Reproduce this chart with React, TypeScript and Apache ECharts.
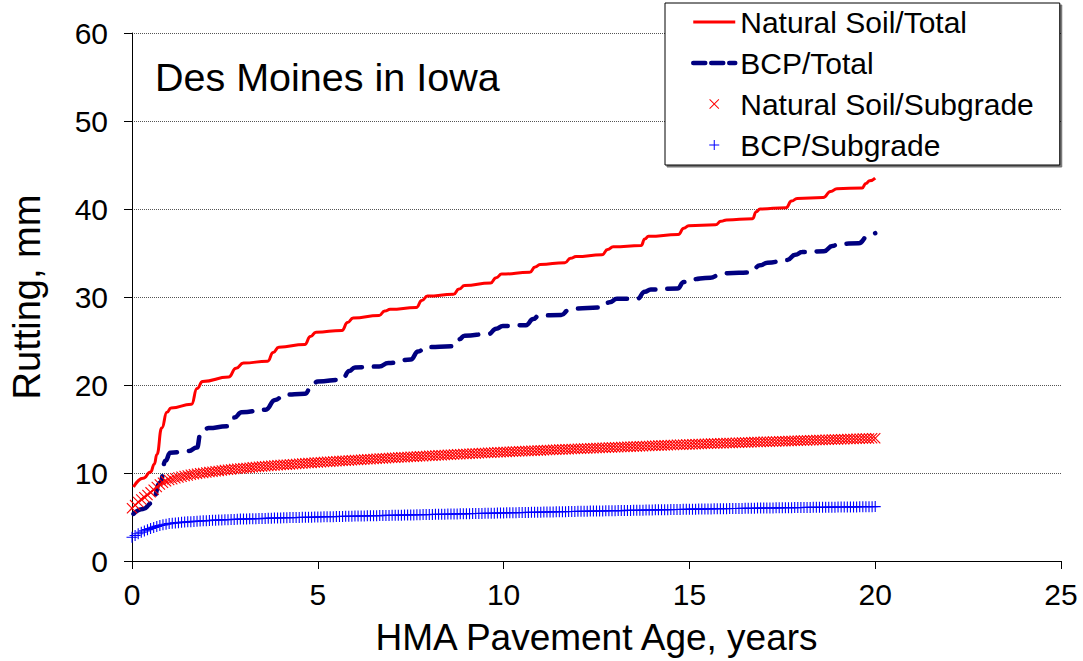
import React, { useEffect, useRef } from "react";
import * as echarts from "echarts";

// ---- Data ----
const xTicks = [0, 5, 10, 15, 20, 25];
const yTicks = [0, 10, 20, 30, 40, 50, 60];

const seriesNames = ["Natural Soil/Total", "BCP/Total", "Natural Soil/Subgrade", "BCP/Subgrade"];

// Natural Soil / Total (years, mm)
const nsTotalAge = [0.04, 0.3, 0.5, 0.6, 0.67, 0.8, 0.94, 1.05, 1.6, 1.75, 1.9, 2.6, 2.8, 3.0, 3.65, 3.8, 3.95, 4.65, 4.8, 4.95, 5.65, 5.8, 5.95, 6.65, 6.8, 6.95, 7.65, 7.8, 7.95, 8.65, 8.8, 8.95, 9.65, 9.8, 9.95, 10.7, 10.85, 10.98, 11.65, 11.8, 11.95, 12.65, 12.8, 12.95, 13.7, 13.8, 13.9, 14.7, 14.85, 14.98, 15.7, 15.85, 16.0, 16.7, 16.8, 16.9, 17.6, 17.75, 17.9, 18.6, 18.8, 18.97, 19.65, 19.75, 19.85, 20.0];
const nsTotalRut = [8.4, 9.4, 10.1, 11.0, 12.1, 15.1, 16.9, 17.4, 17.8, 19.6, 20.4, 20.9, 21.9, 22.5, 22.7, 23.7, 24.3, 24.6, 25.5, 26.0, 26.2, 27.1, 27.6, 27.9, 28.4, 28.6, 28.8, 29.6, 30.1, 30.3, 30.9, 31.3, 31.6, 32.2, 32.6, 32.8, 33.4, 33.7, 33.9, 34.4, 34.6, 34.8, 35.4, 35.7, 35.85, 36.6, 36.9, 37.1, 37.8, 38.1, 38.2, 38.6, 38.75, 38.9, 39.7, 40.0, 40.15, 40.9, 41.2, 41.3, 42.0, 42.3, 42.4, 42.9, 43.2, 43.5];

// BCP / Total (years, mm)
const bcpTotalAge = [0.04, 0.3, 0.54, 0.76, 0.9, 1.03, 1.52, 1.75, 1.84, 2.06, 2.55, 2.75, 2.95, 3.6, 3.85, 4.1, 4.65, 4.85, 5.0, 5.65, 5.85, 6.0, 6.65, 6.9, 7.5, 7.7, 7.9, 8.65, 8.8, 8.95, 9.6, 9.8, 9.98, 10.6, 10.8, 10.95, 11.55, 11.75, 11.9, 12.62, 12.85, 13.05, 13.6, 13.8, 13.96, 14.68, 14.85, 15.0, 15.57, 15.8, 16.02, 16.65, 16.9, 17.1, 17.63, 17.85, 18.03, 18.62, 18.85, 19.02, 19.56, 19.8, 19.96, 20.0];
const bcpTotalRut = [5.35, 5.9, 6.6, 8.9, 11.4, 12.3, 12.5, 12.9, 14.4, 15.1, 15.3, 16.3, 16.9, 17.2, 18.3, 18.9, 19.0, 20.0, 20.4, 20.6, 21.6, 22.0, 22.1, 22.5, 22.9, 23.8, 24.3, 24.4, 25.2, 25.6, 25.8, 26.4, 26.7, 26.8, 27.5, 27.9, 27.95, 28.5, 28.7, 28.8, 29.4, 29.8, 29.8, 30.6, 30.85, 30.96, 31.7, 32.0, 32.2, 32.5, 32.7, 32.8, 33.6, 33.9, 34.2, 34.8, 35.1, 35.2, 35.8, 36.05, 36.1, 36.9, 37.2, 37.25];

// Subgrade rutting, one value per month from 0 to 20 years
const nsSubgrade = [
  6.0, 6.35, 6.7, 7.0, 7.25, 7.5, 7.8, 8.1, 8.4, 8.7, 8.9, 9.05,
  9.2, 9.3, 9.4, 9.49, 9.57, 9.65, 9.72, 9.79, 9.85, 9.91, 9.96, 10.01,
  10.05, 10.1, 10.15, 10.19, 10.24, 10.28, 10.33, 10.37, 10.41, 10.45, 10.48, 10.52,
  10.55, 10.58, 10.61, 10.64, 10.67, 10.7, 10.73, 10.76, 10.79, 10.82, 10.85, 10.88,
  10.9, 10.93, 10.95, 10.98, 11.0, 11.03, 11.05, 11.08, 11.1, 11.13, 11.15, 11.18,
  11.2, 11.22, 11.25, 11.27, 11.29, 11.31, 11.34, 11.36, 11.38, 11.4, 11.43, 11.45,
  11.47, 11.49, 11.51, 11.53, 11.55, 11.57, 11.59, 11.62, 11.64, 11.66, 11.68, 11.7,
  11.72, 11.74, 11.76, 11.78, 11.8, 11.82, 11.84, 11.86, 11.87, 11.89, 11.91, 11.93,
  11.95, 11.97, 11.99, 12.01, 12.02, 12.04, 12.06, 12.08, 12.1, 12.12, 12.13, 12.15,
  12.17, 12.19, 12.21, 12.22, 12.24, 12.26, 12.28, 12.29, 12.31, 12.33, 12.35, 12.36,
  12.38, 12.4, 12.41, 12.43, 12.44, 12.46, 12.48, 12.49, 12.51, 12.52, 12.54, 12.55,
  12.57, 12.59, 12.6, 12.62, 12.63, 12.65, 12.66, 12.68, 12.69, 12.71, 12.72, 12.74,
  12.75, 12.76, 12.78, 12.79, 12.81, 12.82, 12.84, 12.85, 12.86, 12.88, 12.89, 12.91,
  12.92, 12.93, 12.95, 12.96, 12.98, 12.99, 13.01, 13.02, 13.03, 13.05, 13.06, 13.08,
  13.09, 13.1, 13.12, 13.13, 13.14, 13.16, 13.17, 13.18, 13.2, 13.21, 13.22, 13.24,
  13.25, 13.26, 13.28, 13.29, 13.3, 13.31, 13.33, 13.34, 13.35, 13.36, 13.38, 13.39,
  13.4, 13.41, 13.42, 13.44, 13.45, 13.46, 13.47, 13.48, 13.5, 13.51, 13.52, 13.53,
  13.54, 13.55, 13.56, 13.58, 13.59, 13.6, 13.61, 13.62, 13.64, 13.65, 13.66, 13.67,
  13.68, 13.69, 13.7, 13.72, 13.73, 13.74, 13.75, 13.76, 13.78, 13.79, 13.8, 13.81,
  13.82, 13.83, 13.84, 13.85, 13.86, 13.87, 13.89, 13.9, 13.91, 13.92, 13.93, 13.94,
  13.95,
];
const bcpSubgrade = [
  2.7, 2.9, 3.1, 3.27, 3.42, 3.56, 3.7, 3.82, 3.93, 4.03, 4.11, 4.18,
  4.25, 4.29, 4.33, 4.36, 4.39, 4.42, 4.45, 4.47, 4.5, 4.52, 4.54, 4.56,
  4.58, 4.6, 4.62, 4.64, 4.66, 4.67, 4.69, 4.7, 4.72, 4.73, 4.75, 4.76,
  4.77, 4.78, 4.79, 4.8, 4.81, 4.82, 4.83, 4.84, 4.86, 4.87, 4.88, 4.89,
  4.9, 4.91, 4.92, 4.93, 4.93, 4.94, 4.95, 4.96, 4.97, 4.98, 4.98, 4.99,
  5.0, 5.01, 5.02, 5.03, 5.03, 5.04, 5.05, 5.06, 5.07, 5.08, 5.08, 5.09,
  5.1, 5.11, 5.12, 5.12, 5.13, 5.14, 5.15, 5.15, 5.16, 5.17, 5.18, 5.18,
  5.19, 5.2, 5.21, 5.21, 5.22, 5.23, 5.24, 5.24, 5.25, 5.26, 5.27, 5.27,
  5.28, 5.29, 5.3, 5.3, 5.31, 5.32, 5.33, 5.33, 5.34, 5.35, 5.36, 5.36,
  5.37, 5.38, 5.39, 5.39, 5.4, 5.41, 5.42, 5.42, 5.43, 5.44, 5.45, 5.45,
  5.46, 5.47, 5.48, 5.48, 5.49, 5.5, 5.51, 5.51, 5.52, 5.53, 5.54, 5.54,
  5.55, 5.56, 5.57, 5.57, 5.58, 5.59, 5.6, 5.6, 5.61, 5.62, 5.63, 5.63,
  5.64, 5.65, 5.65, 5.66, 5.67, 5.67, 5.68, 5.69, 5.69, 5.7, 5.71, 5.71,
  5.72, 5.73, 5.73, 5.74, 5.75, 5.75, 5.76, 5.77, 5.77, 5.78, 5.79, 5.79,
  5.8, 5.81, 5.81, 5.82, 5.83, 5.83, 5.84, 5.85, 5.85, 5.86, 5.87, 5.87,
  5.88, 5.89, 5.89, 5.9, 5.9, 5.91, 5.92, 5.92, 5.93, 5.93, 5.94, 5.94,
  5.95, 5.96, 5.96, 5.97, 5.97, 5.98, 5.99, 5.99, 6.0, 6.0, 6.01, 6.01,
  6.02, 6.02, 6.03, 6.03, 6.04, 6.04, 6.05, 6.05, 6.06, 6.06, 6.07, 6.07,
  6.08, 6.08, 6.09, 6.09, 6.1, 6.1, 6.1, 6.11, 6.11, 6.12, 6.12, 6.12,
  6.13, 6.13, 6.14, 6.14, 6.15, 6.15, 6.15, 6.16, 6.16, 6.17, 6.17, 6.17,
  6.18,
];

const FONT = "'Liberation Sans', Arial, Helvetica, sans-serif";
const PLUS = "path://M4.5,0 H5.5 V4.5 H10 V5.5 H5.5 V10 H4.5 V5.5 H0 V4.5 H4.5 Z";
const CROSS = "path://M0,0.7 L0.7,0 L5,4.3 L9.3,0 L10,0.7 L5.7,5 L10,9.3 L9.3,10 L5,5.7 L0.7,10 L0,9.3 L4.3,5 Z";
const BCP_DASH = [20, 12];

export default function App() {
  const ref = useRef<HTMLDivElement>(null);

  useEffect(() => {
    document.body.style.margin = "0";
    if (!ref.current) return;
    const chart = echarts.init(ref.current, null, { renderer: "svg" });

    const pairs = (xs: number[], ys: number[]) => xs.map((x, i) => [x, ys[i]]);
    const monthly = (ys: number[]) => ys.map((y, i) => [i / 12, y]);

    chart.setOption({
      animation: false,
      backgroundColor: "#ffffff",
      textStyle: { fontFamily: FONT },
      grid: { left: 130, right: 22, top: 33, bottom: 97, containLabel: false },
      legend: {
        orient: "vertical",
        left: 665,
        top: 3,
        padding: [4, 26, 5, 26],
        itemGap: 11,
        itemWidth: 42,
        itemHeight: 10,
        itemTextGap: 4,
        backgroundColor: "#ffffff",
        borderColor: "#000000",
        borderWidth: 1,
        borderRadius: 0,
        shadowColor: "rgba(0,0,0,0.55)",
        shadowOffsetX: 2,
        shadowOffsetY: 2,
        shadowBlur: 0,
        textStyle: { fontFamily: FONT, fontSize: 30, color: "#000000" },
        data: [
          { name: seriesNames[0], itemStyle: { opacity: 0 }, lineStyle: { width: 3, color: "#FF0000" } },
          {
            name: seriesNames[1],
            itemStyle: { opacity: 0 },
            lineStyle: { width: 4.5, color: "#000080", type: [12, 6], cap: "round" },
          },
          { name: seriesNames[2] },
          { name: seriesNames[3] },
        ],
      },
      graphic: [
        {
          type: "text",
          left: 155,
          top: 57,
          style: { text: "Des Moines in Iowa", font: `39.5px ${FONT}`, fill: "#000000" },
        },
      ],
      xAxis: {
        type: "value",
        min: xTicks[0],
        max: xTicks[xTicks.length - 1],
        interval: 5,
        name: "HMA Pavement Age, years",
        nameLocation: "middle",
        nameGap: 58,
        nameTextStyle: { fontFamily: FONT, fontSize: 37, color: "#000000" },
        axisLine: { show: true, lineStyle: { color: "#000000", width: 1 } },
        axisTick: { show: true, length: 8, lineStyle: { color: "#000000" } },
        axisLabel: { margin: 18, fontFamily: FONT, fontSize: 30, color: "#000000" },
        splitLine: { show: false },
      },
      yAxis: {
        type: "value",
        min: yTicks[0],
        max: yTicks[yTicks.length - 1],
        interval: 10,
        name: "Rutting, mm",
        nameLocation: "middle",
        nameGap: 86,
        nameTextStyle: { fontFamily: FONT, fontSize: 38, color: "#000000" },
        axisLine: { show: true, lineStyle: { color: "#000000", width: 1 } },
        axisTick: { show: true, length: 8, lineStyle: { color: "#000000" } },
        axisLabel: { margin: 24, fontFamily: FONT, fontSize: 30, color: "#000000" },
        splitLine: { show: true, lineStyle: { color: "#555555", width: 1, type: [1, 1] } },
      },
      series: [
        {
          name: seriesNames[0],
          type: "line",
          data: pairs(nsTotalAge, nsTotalRut),
          showSymbol: false,
          symbol: "none",
          smooth: 0.5,
          smoothMonotone: "x",
          lineStyle: { color: "#FF0000", width: 3 },
          itemStyle: { color: "#FF0000" },
          z: 2,
        },
        {
          name: seriesNames[1],
          type: "line",
          data: pairs(bcpTotalAge, bcpTotalRut),
          showSymbol: false,
          symbol: "none",
          smooth: 0.5,
          smoothMonotone: "x",
          lineStyle: { color: "#000080", width: 4.5, type: BCP_DASH, cap: "round" },
          itemStyle: { color: "#000080" },
          z: 3,
        },
        {
          name: seriesNames[2],
          type: "scatter",
          data: monthly(nsSubgrade),
          symbol: CROSS,
          symbolSize: 11,
          itemStyle: { color: "#FF0000", opacity: 1 },
          z: 4,
        },
        {
          name: seriesNames[3],
          type: "scatter",
          data: monthly(bcpSubgrade),
          symbol: PLUS,
          symbolSize: 11,
          itemStyle: { color: "#0000FF", opacity: 1 },
          z: 5,
        },
      ],
    });

    return () => chart.dispose();
  }, []);

  return (
    <div
      ref={ref}
      style={{ position: "absolute", left: 0, top: 0, width: 1083, height: 661 }}
    />
  );
}
